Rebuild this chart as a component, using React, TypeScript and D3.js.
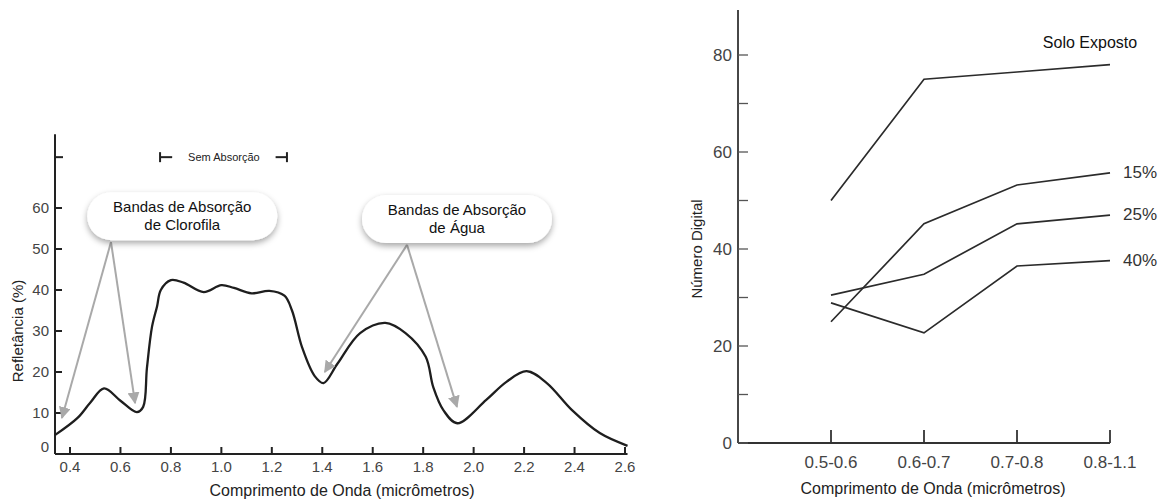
import * as d3 from "d3";

// ---- left chart: spectral reflectance curve ----
const wavelength = [
  0.34, 0.43, 0.48, 0.535, 0.6, 0.665, 0.69, 0.705, 0.725, 0.745, 0.76, 0.8, 0.85,
  0.93, 1.0, 1.05, 1.12, 1.19, 1.25, 1.28, 1.32, 1.37, 1.405, 1.46, 1.55, 1.65,
  1.73, 1.81, 1.84, 1.88, 1.935, 2.05, 2.13, 2.21, 2.29, 2.39, 2.5, 2.61,
];
const reflectance = [
  4.6, 8.8, 12.5, 16, 13, 10.2, 11.5, 21, 31, 36, 40, 42.4, 41.8,
  39.5, 41.2, 40.5, 39.2, 39.8, 38.6, 35, 26, 19, 17.3, 22, 29.5, 32,
  29.5, 23.7, 16.3, 10.7, 7.5, 13.2, 17.6, 20.2, 17.3, 10.7, 5.1, 2,
];
const leftXTicks = [0.4, 0.6, 0.8, 1.0, 1.2, 1.4, 1.6, 1.8, 2.0, 2.2, 2.4, 2.6];
const leftYTicks = [0, 10, 20, 30, 40, 50, 60];

// ---- right chart: digital number per band ----
const bands = ["0.5-0.6", "0.6-0.7", "0.7-0.8", "0.8-1.1"];
const soloExposto = [50, 75, 76.5, 78];
const pct15 = [25, 45.2, 53.2, 55.7];
const pct25 = [30.5, 34.8, 45.2, 47];
const pct40 = [28.9, 22.7, 36.5, 37.6];
const seriesNames = ["Solo Exposto", "15%", "25%", "40%"];
const rightYTicks = [0, 10, 20, 30, 40, 50, 60, 70, 80];

const font = "'Liberation Sans', Arial, Helvetica, sans-serif";

export default function App() {
  // left scales
  const xL = d3.scaleLinear().domain([0.4, 2.6]).range([70, 625]);
  const yL = d3.scaleLinear().domain([0, 60]).range([454, 208]);
  const curve = d3
    .line<number>()
    .x((_, i) => xL(wavelength[i]))
    .y((d) => yL(d))
    .curve(d3.curveCatmullRom.alpha(0.5))(reflectance);

  // right scales
  const xR = d3.scalePoint<string>().domain(bands).range([831, 1110]);
  const yR = d3.scaleLinear().domain([0, 80]).range([443, 55]);
  const seriesData = [soloExposto, pct15, pct25, pct40];
  const lineR = d3
    .line<number>()
    .x((_, i) => xR(bands[i]) as number)
    .y((d) => yR(d));

  const callouts = [
    {
      lines: ["Bandas de Absorção", "de Clorofila"],
      cx: 0.845, cy: 58, anchor: [0.5625, 51.7],
      targets: [[0.368, 8.8], [0.658, 12.4]],
    },
    {
      lines: ["Bandas de Absorção", "de Água"],
      cx: 1.934, cy: 57.3, anchor: [1.736, 51],
      targets: [[1.41, 20], [1.934, 11.5]],
    },
  ];

  const labelY = [yR(soloExposto[3]) - 22, yR(pct15[3]) - 1, yR(pct25[3]) - 1, yR(pct40[3]) - 1];

  return (
    <svg
      width={1167}
      height={500}
      style={{ position: "absolute", left: 0, top: 0, background: "#fff" }}
      fontFamily={font}
    >
      <defs>
        <filter id="shadow" x="-20%" y="-30%" width="140%" height="170%">
          <feDropShadow dx="0" dy="3" stdDeviation="3" floodColor="#000" floodOpacity="0.35" />
        </filter>
        <marker id="arrow" viewBox="0 0 10 10" refX="9" refY="5" markerWidth="6" markerHeight="6" orient="auto">
          <path d="M0,0 L10,5 L0,10 z" fill="#a9a9a9" />
        </marker>
      </defs>

      {/* ===== left chart ===== */}
      <g>
        <line x1={55} x2={55} y1={yL(78)} y2={yL(0)} stroke="#222" strokeWidth={2} />
        <line x1={55} x2={xL(2.61)} y1={yL(0)} y2={yL(0)} stroke="#222" strokeWidth={2} />
        {leftYTicks.map((t) => (
          <g key={t}>
            <line x1={55} x2={62} y1={yL(t)} y2={yL(t)} stroke="#222" strokeWidth={2} />
            <text x={49} y={yL(t) - (t === 0 ? 7 : 0)} dy="0.35em" textAnchor="end" fontSize={15} fill="#444">
              {t}
            </text>
          </g>
        ))}
        <line x1={55} x2={63} y1={yL(72.4)} y2={yL(72.4)} stroke="#222" strokeWidth={2} />
        {leftXTicks.map((t) => (
          <g key={t}>
            <line x1={xL(t)} x2={xL(t)} y1={yL(0)} y2={yL(0) - 7} stroke="#222" strokeWidth={2} />
            <text x={xL(t)} y={467} dy="0.35em" textAnchor="middle" fontSize={15} fill="#444">
              {t.toFixed(1)}
            </text>
          </g>
        ))}
        <text x={342} y={490} dy="0.35em" textAnchor="middle" fontSize={16} fill="#222">
          Comprimento de Onda (micrômetros)
        </text>
        <text
          transform={`translate(18,${yL(30)}) rotate(-90)`}
          dy="0.35em"
          textAnchor="middle"
          fontSize={15}
          fill="#222"
        >
          Refletância (%)
        </text>

        {/* Sem Absorção bracket */}
        <g stroke="#222" strokeWidth={2}>
          <line x1={xL(0.757)} x2={xL(0.757)} y1={yL(72.4) - 5} y2={yL(72.4) + 5} />
          <line x1={xL(0.757)} x2={xL(0.805)} y1={yL(72.4)} y2={yL(72.4)} />
          <line x1={xL(1.215)} x2={xL(1.26)} y1={yL(72.4)} y2={yL(72.4)} />
          <line x1={xL(1.26)} x2={xL(1.26)} y1={yL(72.4) - 5} y2={yL(72.4) + 5} />
        </g>
        <text x={xL(1.01)} y={yL(72.4)} dy="0.35em" textAnchor="middle" fontSize={11} fill="#222">
          Sem Absorção
        </text>

        <path d={curve ?? ""} fill="none" stroke="#1e1e1e" strokeWidth={2.3} strokeLinejoin="round" />

        {callouts.map((c, k) => (
          <g key={k}>
            {c.targets.map((t, j) => (
              <line
                key={j}
                x1={xL(c.anchor[0])}
                y1={yL(c.anchor[1])}
                x2={xL(t[0])}
                y2={yL(t[1])}
                stroke="#a9a9a9"
                strokeWidth={2}
                markerEnd="url(#arrow)"
              />
            ))}
            <rect
              x={xL(c.cx) - 95}
              y={yL(c.cy) - 24}
              width={190}
              height={48}
              rx={24}
              fill="#fff"
              filter="url(#shadow)"
            />
            {c.lines.map((s, j) => (
              <text
                key={j}
                x={xL(c.cx)}
                y={yL(c.cy) - 9 + j * 18}
                dy="0.35em"
                textAnchor="middle"
                fontSize={15}
                fill="#111"
              >
                {s}
              </text>
            ))}
          </g>
        ))}
      </g>

      {/* ===== right chart ===== */}
      <g>
        <line x1={738} x2={738} y1={yR(89.3)} y2={yR(0)} stroke="#333" strokeWidth={1.8} />
        <line x1={738} x2={xR(bands[3])} y1={yR(0)} y2={yR(0)} stroke="#333" strokeWidth={1.8} />
        {rightYTicks.map((t) => (
          <g key={t}>
            <line x1={738} x2={748} y1={yR(t)} y2={yR(t)} stroke="#555" strokeWidth={1.3} />
            {t % 20 === 0 && (
              <text x={732} y={yR(t)} dy="0.35em" textAnchor="end" fontSize={17} fill="#444">
                {t}
              </text>
            )}
          </g>
        ))}
        {bands.map((b) => (
          <g key={b}>
            <line x1={xR(b)} x2={xR(b)} y1={yR(0)} y2={yR(0) - 13} stroke="#333" strokeWidth={1.8} />
            <text x={xR(b)} y={462} dy="0.35em" textAnchor="middle" fontSize={17} fill="#444">
              {b}
            </text>
          </g>
        ))}
        <text x={933} y={488} dy="0.35em" textAnchor="middle" fontSize={16} fill="#222">
          Comprimento de Onda (micrômetros)
        </text>
        <text
          transform={`translate(697,${yR(40)}) rotate(-90)`}
          dy="0.35em"
          textAnchor="middle"
          fontSize={15}
          fill="#222"
        >
          Número Digital
        </text>
        {seriesData.map((s, i) => (
          <path key={i} d={lineR(s) ?? ""} fill="none" stroke="#2b2b2b" strokeWidth={1.7} />
        ))}
        {seriesNames.map((n, i) =>
          i === 0 ? (
            <text key={n} x={1090} y={labelY[i]} dy="0.35em" textAnchor="middle" fontSize={16} fill="#111">
              {n}
            </text>
          ) : (
            <text key={n} x={1123} y={labelY[i]} dy="0.35em" fontSize={17} fill="#333">
              {n}
            </text>
          )
        )}
      </g>
    </svg>
  );
}
